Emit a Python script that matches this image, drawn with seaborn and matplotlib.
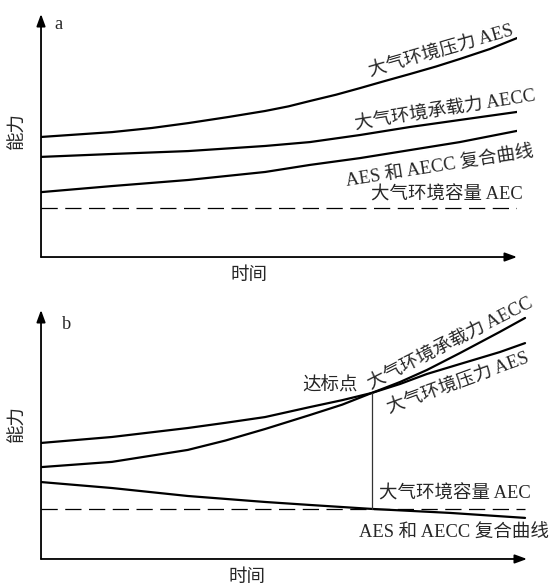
import numpy as np
import pandas as pd
import matplotlib
matplotlib.use("Agg")
import matplotlib.pyplot as plt
import seaborn as sns

# Panel a: time (0-100) and capacity (0-100)
t_a = [0, 14.9, 23.3, 30.9, 39.3, 47.1, 52.0, 56.5, 62.0, 67.0, 72.0, 77.5, 83.0, 88.0, 94.3, 100]
aes_a = [49.4, 51.4, 53.1, 55.1, 57.6, 60.1, 62.0, 64.2, 66.8, 69.5, 72.3, 75.3, 78.4, 81.5, 85.6, 90.1]
t_a2 = [0, 14.9, 30.9, 47.1, 56.5, 67.0, 77.5, 88.0, 100]
aecc_a = [41.2, 42.4, 43.6, 45.7, 47.3, 50.2, 53.5, 56.4, 59.7]
comp_a = [26.7, 29.2, 31.7, 35.0, 37.9, 40.7, 44.0, 47.3, 51.9]
aec_a = 20.2

# Panel b
t_b = [0, 14.6, 30.2, 38.0, 46.1, 55.3, 62.0, 68.1, 73.9, 79.4, 86.2, 94.4, 99.6]
aes_b = [46.6, 49.0, 52.6, 54.7, 57.0, 61.0, 63.8, 66.7, 70.3, 74.3, 78.3, 83.1, 86.7]
aecc_b = [36.9, 39.0, 43.8, 47.6, 52.2, 57.8, 62.0, 66.7, 71.1, 75.9, 82.7, 91.2, 96.8]
t_b2 = [0, 14.6, 30.2, 46.1, 55.3, 68.1, 84.2, 99.6]
comp_b = [30.9, 28.5, 25.3, 22.9, 21.7, 20.1, 18.5, 16.5]
aec_b = 20.1
t_goal = 68.1  # 达标点

sns.set_theme(style="white")
plt.rcParams["font.family"] = ["Liberation Serif", "Noto Sans CJK SC"]

fig = plt.figure(figsize=(5.52, 5.86), dpi=100)
ax_a = fig.add_axes([0.0743, 0.5614, 0.8623, 0.4147])
ax_b = fig.add_axes([0.0743, 0.0461, 0.8804, 0.4249])

fs = 13.3
lw = 1.6


def draw_axes(ax):
    ax.set_xlim(0, 100)
    ax.set_ylim(0, 100)
    for s in ax.spines.values():
        s.set_visible(False)
    ax.set_xticks([])
    ax.set_yticks([])
    arrow = dict(arrowstyle="-|>,head_length=0.6,head_width=0.22", lw=1.3,
                 color="black", shrinkA=0, shrinkB=0, mutation_scale=12)
    ax.annotate("", xy=(1, 0), xytext=(0, 0), xycoords="axes fraction", arrowprops=arrow)
    ax.annotate("", xy=(0, 1), xytext=(0, 0), xycoords="axes fraction", arrowprops=arrow)


# ---- panel a ----
draw_axes(ax_a)
sns.lineplot(x=t_a, y=aes_a, ax=ax_a, color="black", lw=lw)
sns.lineplot(x=t_a2, y=aecc_a, ax=ax_a, color="black", lw=lw)
sns.lineplot(x=t_a2, y=comp_a, ax=ax_a, color="black", lw=lw)
ax_a.plot([0, 100], [aec_a, aec_a], color="black", lw=0.9, dashes=(13, 6))

ax_a.text(3.6, 95.5, "a", fontsize=fs, ha="center", va="center")
ax_a.text(-0.048, 0.52, "能力", fontsize=fs, rotation=90, ha="center", va="center",
          transform=ax_a.transAxes)
ax_a.text(0.437, -0.074, "时间", fontsize=fs, ha="center", va="center",
          transform=ax_a.transAxes)
txt = dict(fontsize=fs, ha="left", va="baseline", rotation_mode="anchor", clip_on=False)
ax_a.text(69.3, 74.3, "大气环境压力 AES", rotation=16, **txt)
ax_a.text(66.2, 52.5, "大气环境承载力 AECC", rotation=9, **txt)
ax_a.text(64.3, 28.8, "AES 和 AECC 复合曲线", rotation=9, **txt)
ax_a.text(69.3, 23.5, "大气环境容量 AEC", rotation=0, **txt)

# ---- panel b ----
draw_axes(ax_b)
sns.lineplot(x=t_b, y=aes_b, ax=ax_b, color="black", lw=lw)
sns.lineplot(x=t_b, y=aecc_b, ax=ax_b, color="black", lw=lw)
sns.lineplot(x=t_b2, y=comp_b, ax=ax_b, color="black", lw=lw)
ax_b.plot([0, 99.6], [aec_b, aec_b], color="black", lw=0.9, dashes=(13, 6))
ax_b.plot([t_goal, t_goal], [aec_b, aes_b[7]], color="#333333", lw=0.9)

ax_b.text(5.3, 94, "b", fontsize=fs, ha="center", va="center")
ax_b.text(-0.047, 0.546, "能力", fontsize=fs, rotation=90, ha="center", va="center",
          transform=ax_b.transAxes)
ax_b.text(0.424, -0.075, "时间", fontsize=fs, ha="center", va="center",
          transform=ax_b.transAxes)
ax_b.text(53.8, 67.5, "达标点", rotation=0, **txt)
ax_b.text(68.0, 68.0, "大气环境承载力 AECC", rotation=27, **txt)
ax_b.text(71.6, 58.6, "大气环境压力 AES", rotation=20, **txt)
ax_b.text(69.5, 24.1, "大气环境容量 AEC", rotation=0, **txt)
ax_b.text(65.5, 8.4, "AES 和 AECC 复合曲线", rotation=0, **txt)

fig.savefig("out.png", dpi=100)
